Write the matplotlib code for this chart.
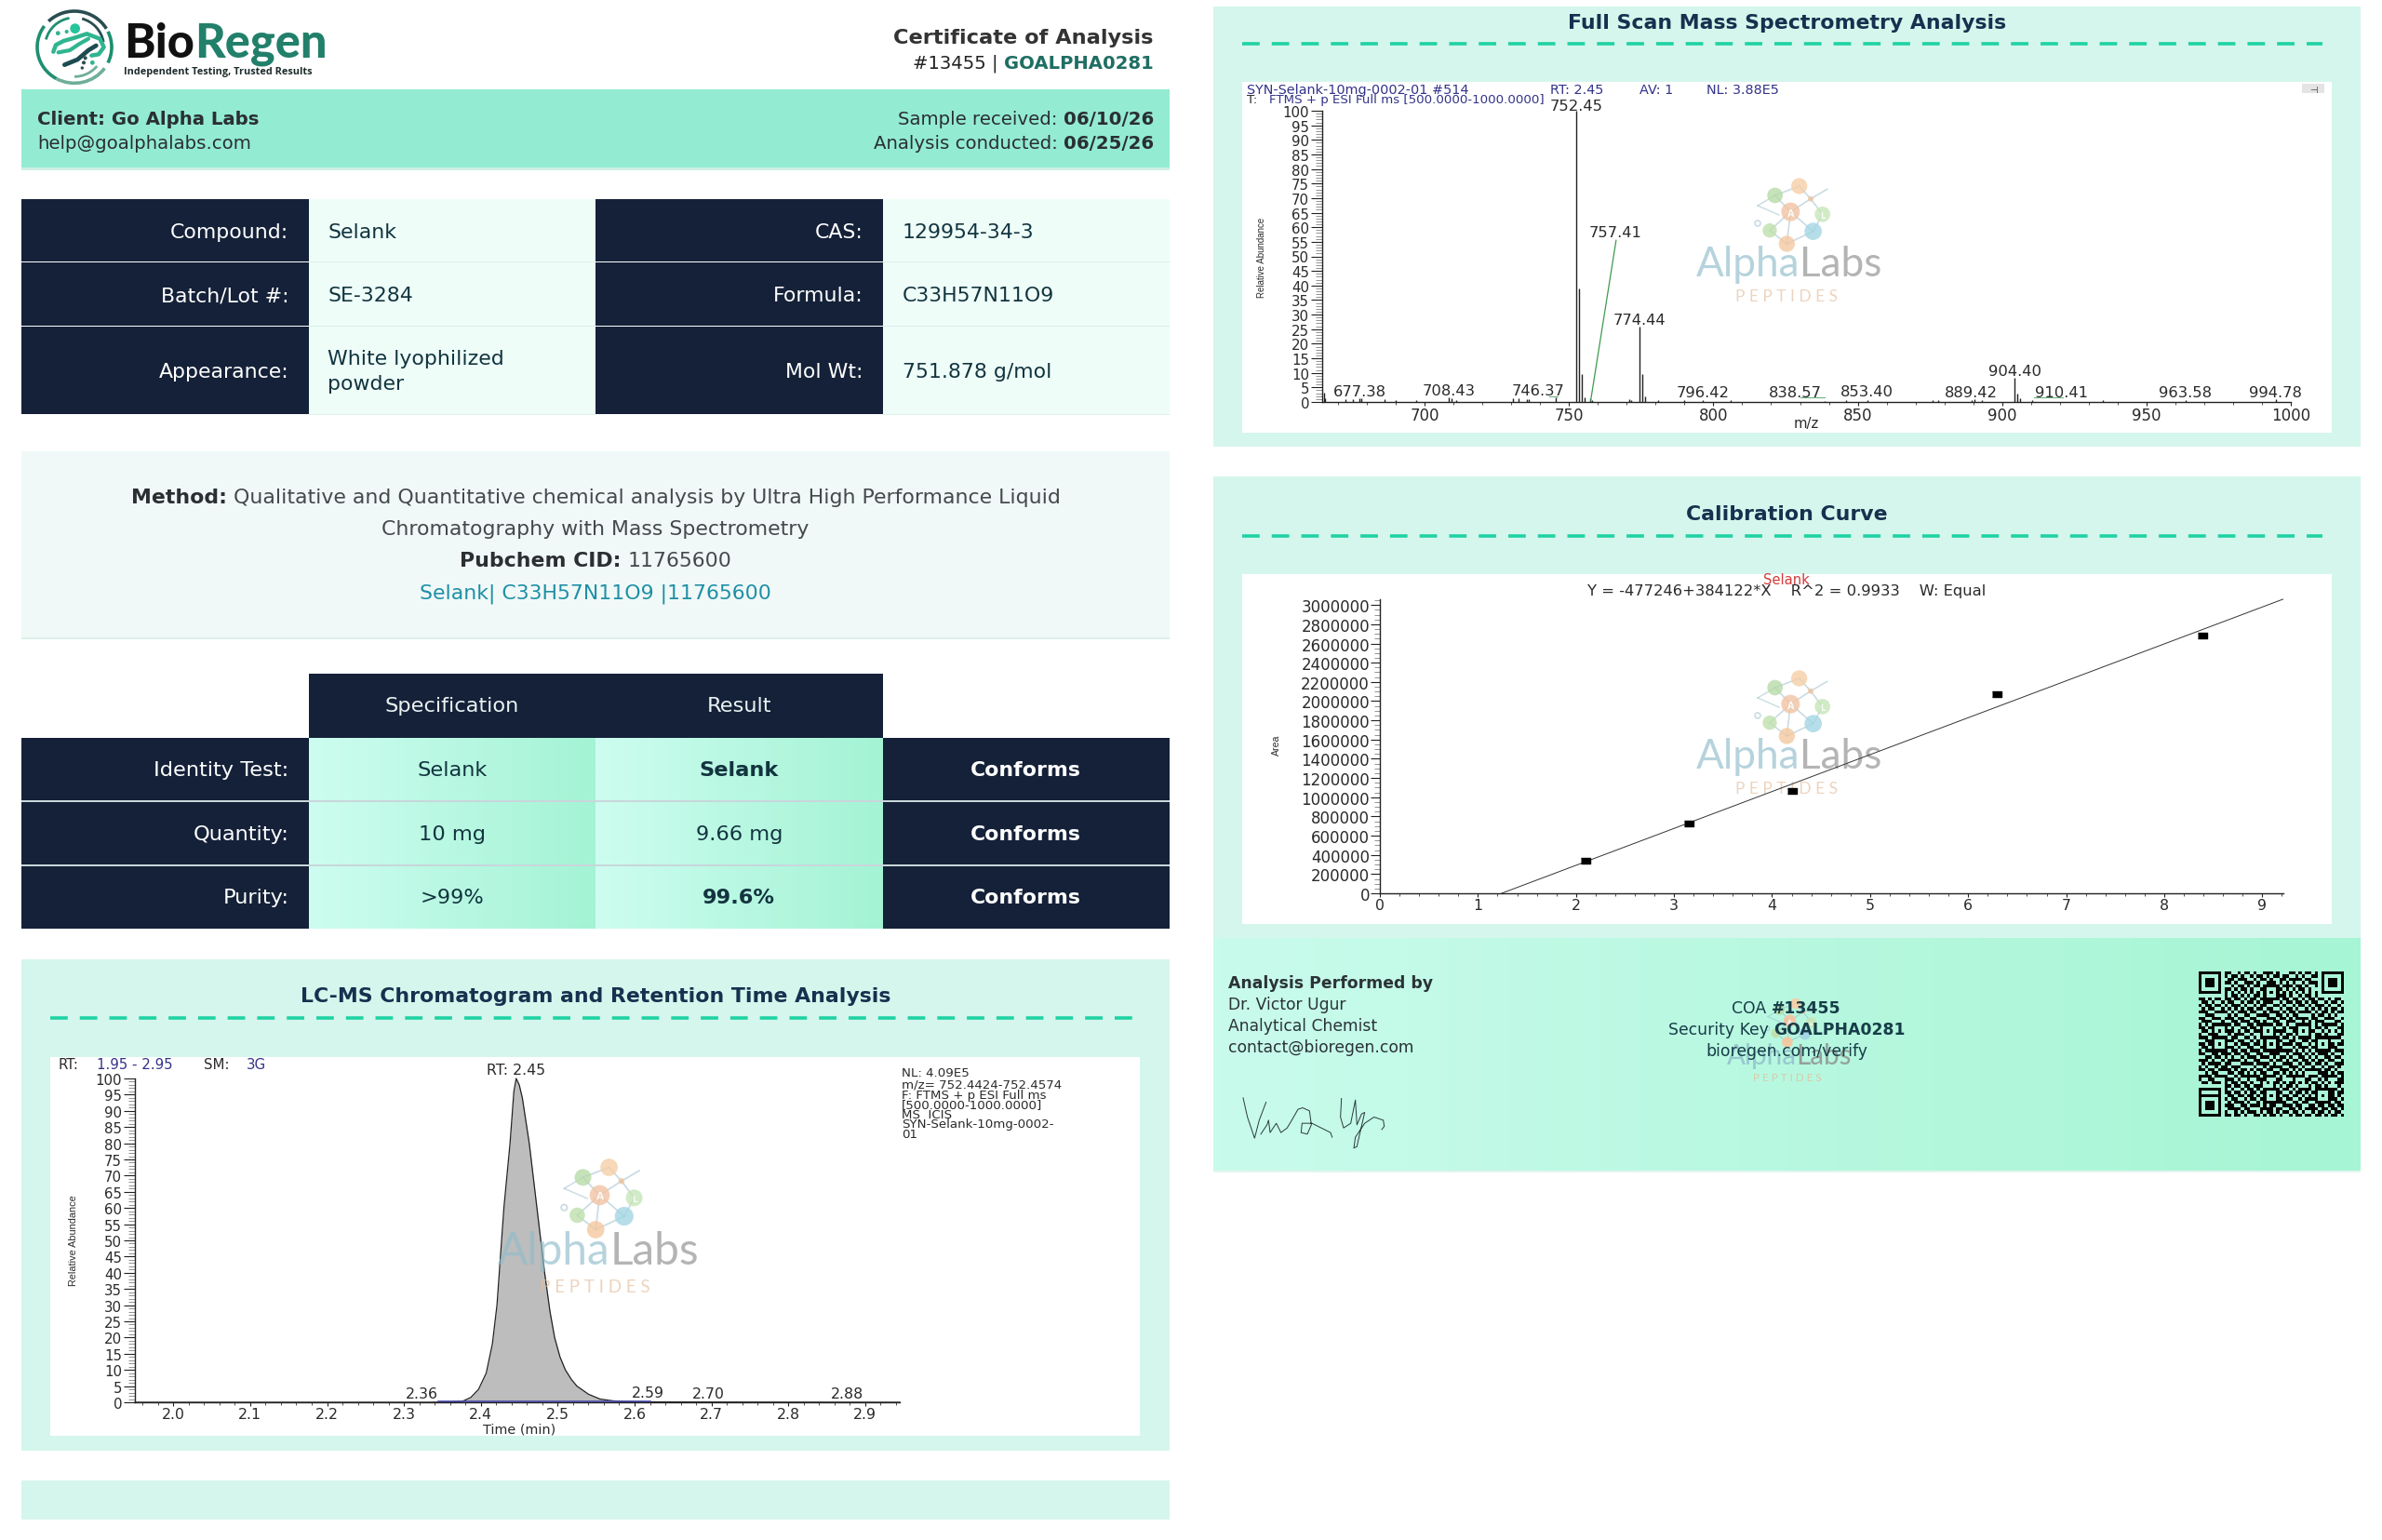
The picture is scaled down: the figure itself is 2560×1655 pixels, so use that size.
import numpy as np
import matplotlib
matplotlib.use("Agg")
import matplotlib.pyplot as plt
from matplotlib.colors import LinearSegmentedColormap, ListedColormap
from matplotlib.patches import Rectangle, Circle, Arc

W, H = 2560, 1656

# ---------- data ----------
info_left = [("Compound:", ["Selank"]), ("Batch/Lot #:", ["SE-3284"]), ("Appearance:", ["White lyophilized", "powder"])]
info_right = [("CAS:", "129954-34-3"), ("Formula:", "C33H57N11O9"), ("Mol Wt:", "751.878 g/mol")]
test_names = ["Identity Test:", "Quantity:", "Purity:"]
test_spec = ["Selank", "10 mg", ">99%"]
test_result = ["Selank", "9.66 mg", "99.6%"]
test_result_weight = ["bold", "normal", "bold"]
test_status = ["Conforms", "Conforms", "Conforms"]

lc_time = [1.95, 2.33, 2.36, 2.376, 2.387, 2.397, 2.407, 2.415, 2.421, 2.424, 2.430, 2.438, 2.443, 2.446, 2.450, 2.454,
           2.463, 2.473, 2.483, 2.490, 2.496, 2.503, 2.510, 2.518, 2.525, 2.540, 2.555, 2.570, 2.585, 2.62, 2.945]
lc_abund = [0, 0, 0.1, 0.3, 1.5, 4, 9, 18, 30, 40, 60, 80, 96, 100, 98, 94,
            80, 60, 40, 28, 20, 14, 10, 7, 5, 2.5, 1, 0.5, 0.2, 0.1, 0]
lc_labels = ["2.36", "2.59", "2.70", "2.88"]
lc_label_x = [2.323, 2.617, 2.696, 2.877]
lc_label_y = [0.6, 0.8, 0.6, 0.6]

ms_mz = [665.0, 665.6, 672.5, 675.0, 677.38, 678.0, 686.0, 690.0, 697.0, 708.43, 709.4, 711.0, 730.5, 732.5, 735.5, 736.2,
         745.5, 752.45, 753.45, 754.45, 755.4, 757.41, 758.0, 771.0, 771.5, 774.44, 775.45, 776.4, 781.0, 790.0, 796.42, 806.0,
         838.57, 846.0, 853.40, 876.0, 878.0, 889.42, 890.5, 893.0, 904.40, 905.4, 906.2, 910.41, 935.0, 963.58, 994.78]
ms_abund = [3.2, 1.2, 0.8, 0.8, 1.2, 1.2, 0.8, 0.6, 0.5, 1.5, 1.3, 0.5, 1.4, 1.4, 1.1, 0.9,
            1.5, 100, 39, 9.5, 1.5, 1.3, 0.5, 0.8, 0.6, 26, 9.5, 1.8, 0.5, 0.5, 0.5, 0.5,
            0.4, 0.6, 0.6, 0.7, 0.6, 0.6, 0.8, 0.5, 8.3, 3, 1.2, 0.6, 0.6, 0.5, 0.8]
ms_labels = ["752.45", "757.41", "774.44", "904.40", "677.38", "708.43", "746.37", "796.42", "838.57", "853.40", "889.42", "910.41", "963.58", "994.78"]
ms_label_x = [752.45, 766.0, 774.5, 904.4, 677.5, 708.4, 739.2, 796.4, 828.5, 853.2, 889.2, 920.5, 963.5, 994.8]
ms_label_y = [99.4, 56, 26, 8.4, 1.2, 1.6, 1.6, 1.0, 0.8, 1.2, 1.0, 0.8, 1.0, 1.0]
ms_guide_x = [757.5, 766.3]
ms_guide_y = [0.5, 55.5]

cal_x = [2.10, 3.15, 4.20, 6.29, 8.39]
cal_y = [335000, 725000, 1070000, 2075000, 2685000]
cal_line_x = [1.242, 9.21]
cal_line_y = [0, 3060000]

qr_rows = [
"111111101100101101001110100011010110101111111",
"100000101011010010110101101100101001101000001",
"101110100110111001011010011011110110001011101",
"101110101101001110100111010101001011101011101",
"101110100010110101101001101110110100101011101",
"100000101101011010010110010101011010001000001",
"111111101010101010101010101010101010101111111",
"000000001011010101101011011010010110100000000",
"110101101101101011010101101101101011011010110",
"011010010110010110101110010110110101100101101",
"101101101011101001011001101001011010111010010",
"010110010101010110110110010110100101010101101",
"111001111010111011001011101011011110101101011",
"001110000101001100111100110101100001011010100",
"110011101110110011000111011010111101100111001",
"011100010011011101101001100111001010111000110",
"101011111101100110111110110100111110101111101",
"110110001010011011010001001011100010110100011",
"011010101110101101110101111001101011001010101",
"100111000101110010010001010110100010110100011",
"111001111011001101011111101101011110011111110",
"001100010110110010100110010011001101100100001",
"110111101001011101101011101110110010111011011",
"011001011110100110010100110001011101001101100",
"101110100011011011101110011110101010110010111",
"110011011101101100110011100101110101011101001",
"001101101010010111011101011010011010100110110",
"111010010111101001100010110101101101011011001",
"010111101100011110111101001110010110110100111",
"101001011011100001001011110011101001001011010",
"110110111101011010110110011101010111110110100",
"001011000110110101011001101010101000011101011",
"111101111001011111101111010111111011101111101",
"100110001110100100111000110001000110010100011",
"011011101011011010010101101011010101101010111",
"000000001101101101110001010110100010110100010",
"111111101010010110101111101101011110011111101",
"100000101101101011010110010010110101100101011",
"101110100110110110101011101101101010111011010",
"101110101011001011011101010110010111001101101",
"101110100101110100100110111001101100110110110",
"100000101110011011101011001110110011011011011",
"111111100111101100011110110011010111101101101",
"000000001001010111010110101101101001011010110",
"000000001101101001101011010010110110110101101",
]
qr_align_rows = [6, 22, 38]

# ---------- canvas helpers ----------
fig = plt.figure(figsize=(W / 100, H / 100), dpi=100, facecolor="white")
plt.rcParams["font.family"] = ["DejaVu Sans"]
renderer = fig.canvas.get_renderer()

def px_axes(z):
    a = fig.add_axes([0, 0, 1, 1], zorder=z, facecolor="none")
    a.set_xlim(0, W)
    a.set_ylim(H, 0)
    a.set_autoscale_on(False)
    a.axis("off")
    return a

base = px_axes(0)
top = px_axes(5)

def rect(x0, y0, x1, y1, color, ax=base, z=1):
    ax.add_patch(Rectangle((x0, y0), x1 - x0, y1 - y0, facecolor=color, edgecolor="none", zorder=z))

def grad(x0, y0, x1, y1, c0, c1, ax=base, z=1):
    cm = LinearSegmentedColormap.from_list("g", [c0, c1])
    ax.imshow(np.linspace(0, 1, 256)[None, :], extent=(x0, x1, y1, y0), cmap=cm, aspect="auto", zorder=z, interpolation="bilinear")

def txt(x, y, s, size=15.8, color="#222", weight="normal", ha="left", ax=base, z=3, **kw):
    return ax.text(x, y, s, fontsize=size, color=color, fontweight=weight, ha=ha, va="center_baseline", zorder=z, **kw)

def runs(x, y, parts, size=14.2, ha="left", ax=base, z=3, **kw):
    """parts: (text, weight, color); a trailing space in text adds a gap."""
    items, total = [], 0
    space = 0.318 * size / 0.72
    for s, w, c in parts:
        t = txt(0, y, s.rstrip(), size=size, color=c, weight=w, ax=ax, z=z, **kw)
        wid = t.get_window_extent(renderer).width
        gap = space * (len(s) - len(s.rstrip()))
        items.append((t, total))
        total += wid + gap
    start = x - total if ha == "right" else x - total / 2 if ha == "center" else x
    for t, off in items:
        t.set_x(start + off)

# ---------- header ----------
NAVY = "#142138"
BAND = "#93ebd2"
PANEL = "#d5f6ec"
CELL = "#eefdf8"
TEAL = "#1f6e63"
L0, L1 = 23, 1257
C = [23, 331.5, 640, 948.5, 1257]

# logo ring and swirl
def zx(v): return v / 3 + 20
def zy(v): return v / 3
for th1, th2, col in [(35, 120, "#6fae98"), (120, 215, "#1f8f70"), (225, 330, "#2a4d50"), (335, 385, "#1c8f6f")]:
    base.add_patch(Arc((zx(180), zy(155)), 240 / 3, 232 / 3, theta1=th1, theta2=th2, color=col, lw=2.6, zorder=3))
for th1, th2, col in [(195, 260, "#1f8f70"), (40, 90, "#6fae98"), (285, 350, "#2a4d50")]:
    base.add_patch(Arc((zx(180), zy(155)), 190 / 3, 190 / 3, theta1=th1, theta2=th2, color=col, lw=2.0, zorder=3))
swirl_a = [(112, 170), (120, 148), (145, 135), (180, 125), (220, 112), (262, 128), (275, 155), (258, 178), (235, 182)]
swirl_b = [(128, 172), (165, 165), (195, 145), (225, 128)]
swirl_c = [(148, 212), (190, 195), (225, 165), (250, 150)]
for pts, col, lw in [(swirl_a, "#2fb58f", 3.2), (swirl_b, "#2fb58f", 3.0), (swirl_c, "#1e4b50", 3.4)]:
    base.plot([zx(p[0]) for p in pts], [zy(p[1]) for p in pts], color=col, lw=lw, solid_capstyle="round", zorder=3)
for dx, dy, r, col in [(182, 95, 14, "#26c49a"), (127, 110, 5, "#2fb58f"), (155, 105, 4, "#2fb58f"), (215, 190, 4, "#2a4d50"), (238, 205, 5, "#2fb58f"), (210, 205, 4, "#2a4d50"), (205, 222, 3, "#2a4d50")]:
    base.add_patch(Circle((zx(dx), zy(dy)), r / 3, color=col, zorder=3))
runs(133, 43, [("Bio", 900, "#111111"), ("Regen", 900, "#22806a")], size=36.4, ha="left", family="Lato")
txt(133, 76, "Independent Testing, Trusted Results", size=7.8, color="#1d2a2a", weight="bold", family="Open Sans")

txt(1240, 39, "Certificate of Analysis", size=16.2, color="#333333", weight="bold", ha="right")
runs(1240, 66, [("#13455 | ", "normal", "#222222"), ("GOALPHA0281", "bold", TEAL)], size=14.1, ha="right")

rect(L0, 97, L1, 182, BAND)
rect(L0, 181, L1, 183.5, "#cfeee4")
runs(40, 126, [("Client: Go Alpha Labs", "bold", "#2a2f33")], size=14.2)
txt(40, 153, "help@goalphalabs.com", size=14.2, color="#2a2f33")
runs(1240, 126, [("Sample received: ", "normal", "#2a2f33"), ("06/10/26", "bold", "#2a2f33")], size=14.2, ha="right")
runs(1240, 153, [("Analysis conducted: ", "normal", "#2a2f33"), ("06/25/26", "bold", "#2a2f33")], size=14.2, ha="right")

# ---------- info table ----------
row_y = [215, 283, 352, 447]
for i in range(3):
    y0, y1 = row_y[i], row_y[i + 1]
    mid = (y0 + y1) / 2
    rect(C[0], y0, C[1], y1 - 1.5, NAVY)
    rect(C[2], y0, C[3], y1 - 1.5, NAVY)
    rect(C[1], y0, C[2], y1 - 1.5, CELL)
    rect(C[3], y0, C[4], y1 - 1.5, CELL)
    rect(C[1], y1 - 1.5, C[2], y1, "#dcefe9")
    rect(C[3], y1 - 1.5, C[4], y1, "#dcefe9")
    lab, vals = info_left[i]
    txt(C[1] - 21, mid - 1.5, lab, color="white", ha="right")
    for k, v in enumerate(vals):
        txt(C[1] + 21, mid - 1.5 + (k - (len(vals) - 1) / 2) * 27, v, color="#12343f")
    lab, val = info_right[i]
    txt(C[3] - 21, mid - 1.5, lab, color="white", ha="right")
    txt(C[3] + 21, mid - 1.5, val, color="#12343f")

# ---------- method ----------
rect(L0, 486, L1, 687, "#f0f9f7")
rect(L0, 686, L1, 687.5, "#dcefe9")
MX = (L0 + L1) / 2
runs(MX, 533, [("Method: ", "bold", "#2b2f33"), ("Qualitative and Quantitative chemical analysis by Ultra High Performance Liquid", "normal", "#44494d")], size=15.8, ha="center")
txt(MX, 567, "Chromatography with Mass Spectrometry", size=15.8, color="#44494d", ha="center")
runs(MX, 601, [("Pubchem CID: ", "bold", "#2b2f33"), ("11765600", "normal", "#44494d")], size=15.8, ha="center")
txt(MX, 636, "Selank| C33H57N11O9 |11765600", size=15.8, color="#1f8fa6", ha="center")

# ---------- results ----------
res_y = [725, 794, 862, 931, 999]
RS = 16.2
rect(C[1], res_y[0], C[3], res_y[1], NAVY)
txt((C[1] + C[2]) / 2, (res_y[0] + res_y[1]) / 2 - 2.5, "Specification", size=RS, color="#eaf2f2", ha="center")
txt((C[2] + C[3]) / 2, (res_y[0] + res_y[1]) / 2 - 2.5, "Result", size=RS, color="#eaf2f2", ha="center")
for i in range(3):
    y0, y1 = res_y[i + 1], res_y[i + 2]
    mid = (y0 + y1) / 2 - 1.5
    rect(C[0], y0, C[1], y1, NAVY)
    rect(C[3], y0, C[4], y1, NAVY)
    grad(C[1], y0, C[2], y1, "#cdfdf0", "#a4f3d5")
    grad(C[2], y0, C[3], y1, "#cdfdf0", "#a4f3d5")
    if i:
        rect(C[0], y0 - 1, C[4], y0 + 1, "#c8d6da", z=2)
    txt(C[1] - 21, mid, test_names[i], size=RS, color="white", ha="right")
    txt((C[1] + C[2]) / 2, mid, test_spec[i], size=RS, color="#12343f", ha="center")
    txt((C[2] + C[3]) / 2, mid, test_result[i], size=RS, color="#12343f", weight=test_result_weight[i], ha="center")
    txt((C[3] + C[4]) / 2, mid, test_status[i], color="white", weight="bold", ha="center")

# ---------- panels ----------
def panel(x0, y0, x1, y1, title, ty, dy, dx0, dx1, box):
    rect(x0, y0, x1, y1, PANEL)
    txt((x0 + x1) / 2, ty, title, size=15.8, color="#17304f", weight="bold", ha="center")
    base.plot([dx0, dx1], [dy, dy], color="#1fd2a3", lw=2.6, dashes=(5.2, 3.6), zorder=3)
    rect(*box, "white", z=2)

panel(L0, 1032, L1, 1560, "LC-MS Chromatogram and Retention Time Analysis", 1069, 1095, 54, 1222, (54, 1137, 1225, 1544))
rect(L0, 1592, L1, 1634, PANEL)
R0, R1 = 1304, 2537
panel(R0, 8, R1, 481, "Full Scan Mass Spectrometry Analysis", 23, 48, 1335, 2496, (1335, 89, 2506, 466))
panel(R0, 513, R1, 1009, "Calibration Curve", 551, 577, 1335, 2496, (1335, 618, 2506, 994))

# ---------- chart axes ----------
def chart(x0, x1, ytop, ybot, xlim, ylim, z=2):
    a = fig.add_axes([x0 / W, 1 - ybot / H, (x1 - x0) / W, (ybot - ytop) / H], zorder=z, facecolor="none")
    a.set_xlim(*xlim)
    a.set_ylim(*ylim)
    for s in ("top", "right"):
        a.spines[s].set_visible(False)
    for s in ("left", "bottom"):
        a.spines[s].set_linewidth(1.0)
        a.spines[s].set_color("#222222")
    return a

CF = dict(fontsize=11.3, color="#2a2a2a")
YF = dict(fontsize=10.8, color="#2a2a2a")

def style_ticks(a, ymaj=9, ymin=5):
    a.tick_params(axis="y", which="major", length=ymaj, width=0.8, pad=1, color="#222222")
    a.tick_params(axis="y", which="minor", length=ymin, width=0.5, color="#666666")
    a.tick_params(axis="x", which="major", length=3.2, width=0.8, pad=0.5, color="#222222")
    a.tick_params(axis="x", which="minor", length=1.8, width=0.6, color="#333333")

# LC chromatogram
lc = chart(145, 967, 1160, 1508, (1.95, 2.945), (0, 100))
lc.fill_between(lc_time, lc_abund, color="#bdbdbd", lw=0)
lc.plot(lc_time, lc_abund, color="#222222", lw=0.9, clip_on=False)
lc.plot([2.345, 2.62], [0.15, 0.15], color="#4a4ab0", lw=1.2)
lc.set_xticks(np.arange(2.0, 2.95, 0.1))
lc.set_xticklabels(["%.1f" % v for v in np.arange(2.0, 2.95, 0.1)], **CF)
lc.set_xticks(np.arange(1.96, 2.945, 0.02), minor=True)
lc.set_yticks(np.arange(0, 101, 5))
lc.set_yticklabels([str(v) for v in range(0, 101, 5)], **YF)
lc.set_yticks(np.arange(0, 101, 1), minor=True)
style_ticks(lc)
txt(558, 1535, "Time (min)", size=10.4, color="#2a2a2a", ha="center", ax=top)
txt(78, 1333, "Relative Abundance", size=7.8, color="#2a2a2a", ha="center", ax=top, rotation=90, rotation_mode="anchor", family="Liberation Sans")
for s, x, y in zip(lc_labels, lc_label_x, lc_label_y):
    lc.text(x, y, s, ha="center", va="bottom", **CF)
lc.text(2.446, 100.5, "RT: 2.45", ha="center", va="bottom", **CF)
for x, s, col in [(63, "RT:", "#2a2a2a"), (104, "1.95 - 2.95", "#33338a"), (219, "SM:", "#2a2a2a"), (265, "3G", "#33338a")]:
    txt(x, 1143, s, size=10.8, color=col, ax=top)
lc_info = ["NL: 4.09E5", "m/z= 752.4424-752.4574", "F: FTMS + p ESI Full ms", "[500.0000-1000.0000]", "MS  ICIS", "SYN-Selank-10mg-0002-", "01"]
for k, s in enumerate(lc_info):
    yy = 1152 if k == 0 else 1165 + (k - 1) * 10.6
    txt(969, yy, s, size=9.6, color="#2a2a2a", ax=top)

# Mass spectrum
ms = chart(1421, 2462, 120, 433, (664.5, 1000), (0, 100))
ms.vlines(ms_mz, 0, ms_abund, color="#222222", lw=1.0)
ms.plot(ms_guide_x, ms_guide_y, color="#3d9a4e", lw=0.9)
for gx, gy in [([743, 746], [1.9, 1.9]), ([830, 838.5], [1.5, 1.5]), ([911, 921], [1.6, 1.6])]:
    ms.plot(gx, gy, color="#6fb27d", lw=0.8)
ms.set_xticks(np.arange(700, 1001, 50))
ms.set_xticklabels([str(v) for v in range(700, 1001, 50)], fontsize=12.0, color="#2a2a2a")
ms.set_xticks(np.arange(670, 1001, 10), minor=True)
ms.set_yticks(np.arange(0, 101, 5))
ms.set_yticklabels([str(v) for v in range(0, 101, 5)], **YF)
ms.set_yticks(np.arange(0, 101, 1), minor=True)
style_ticks(ms)
txt(1941, 454, "m/z", size=10.6, color="#2a2a2a", ha="center", ax=top)
txt(1355, 277, "Relative Abundance", size=7.0, color="#2a2a2a", ha="center", ax=top, rotation=90, rotation_mode="anchor", family="Liberation Sans")
for s, x, y in zip(ms_labels, ms_label_x, ms_label_y):
    ms.text(x, y, s, ha="center", va="bottom", clip_on=False, fontsize=11.8, color="#2a2a2a")
HB = "#33338a"
for x, s in [(1340, "SYN-Selank-10mg-0002-01 #514"), (1666, "RT: 2.45"), (1762, "AV: 1"), (1834, "NL: 3.88E5")]:
    txt(x, 95.5, s, size=10.4, color=HB, ax=top)
txt(1340, 106, "T:", size=9.6, color="#2a2a2a", ax=top)
txt(1364, 106, "FTMS + p ESI Full ms [500.0000-1000.0000]", size=9.6, color=HB, ax=top)
rect(2474, 91, 2498, 101, "#e4e4e4", ax=top)
txt(2486, 96, "⊣", size=7, ha="center", color="#333333", ax=top)

# Calibration
cal = chart(1483, 2453.5, 645, 961, (0, 9.21), (0, 3060000), z=7)
cal.plot(cal_line_x, cal_line_y, color="#333333", lw=0.7, clip_on=False)
cal.plot(cal_x, cal_y, ls="none", color="black", marker=[(-1.6, -1), (1.6, -1), (1.6, 1), (-1.6, 1)], ms=7.5)
cal.set_xticks(np.arange(0, 10))
cal.set_xticklabels([str(v) for v in range(10)], **CF)
cal.set_xticks(np.arange(0, 9.21, 0.2), minor=True)
cal.set_yticks(np.arange(0, 3000001, 200000))
cal.set_yticklabels([str(v) for v in range(0, 3000001, 200000)], fontsize=12.0, color="#2a2a2a")
cal.set_yticks(np.arange(0, 3060000, 50000), minor=True)
style_ticks(cal, ymaj=7, ymin=4)
txt(1371, 801, "Area", size=7.6, color="#2a2a2a", ha="center", ax=top, rotation=90, rotation_mode="anchor", family="Liberation Sans")
txt(1920, 622, "Selank", size=10.6, color="#d23a3a", ha="center", ax=top)
txt(1920, 634.5, "Y = -477246+384122*X    R^2 = 0.9933    W: Equal", size=11.8, color="#2a2a2a", ha="center", ax=top)

# ---------- footer ----------
grad(R0, 1009, R1, 1259, "#c9fbec", "#a6f5d4")
rect(R0, 1259, R1, 1261, "#e3f5ef")
txt(1320, 1055, "Analysis Performed by", size=12.4, weight="bold", color="#2b3336", ax=top, z=8)
for k, s in enumerate(["Dr. Victor Ugur", "Analytical Chemist", "contact@bioregen.com"]):
    txt(1320, 1078 + k * 22.8, s, size=12.3, color="#2b3336", ax=top, z=8)
FX = 1920
runs(FX, 1082, [("COA ", "normal", "#173d48"), ("#13455", "bold", "#173d48")], size=12.4, ha="center", ax=top, z=8)
runs(FX, 1105, [("Security Key ", "normal", "#173d48"), ("GOALPHA0281", "bold", "#173d48")], size=12.4, ha="center", ax=top, z=8)
txt(FX, 1128, "bioregen.com/verify", size=12.4, color="#173d48", ha="center", ax=top, z=8)

sig_a = [(48, 418), (62, 480), (85, 548), (100, 490), (122, 432)]
sig_b = [(105, 535), (125, 505), (130, 490), (135, 530), (155, 500), (170, 530), (190, 515), (205, 490), (225, 455), (240, 450), (262, 460),
         (268, 505), (255, 535), (235, 530), (238, 500), (270, 500), (300, 515), (330, 530), (335, 545)]
sig_c = [(365, 420), (362, 480), (372, 515), (395, 500), (410, 425), (415, 505), (430, 470), (440, 465), (425, 530), (415, 575), (405, 580),
         (410, 545), (440, 500), (470, 480), (500, 490), (503, 510), (495, 520)]
for pts in (sig_a, sig_b, sig_c):
    top.plot([p[0] / 3 + 1320 for p in pts], [p[1] / 3 + 1041.5 for p in pts], color="#2a3a3a", lw=0.7, zorder=8)

# QR
qr = np.array([[int(c) for c in r.ljust(45, "0")[:45]] for r in qr_rows])
def stamp(m, r, c, pat):
    m[r:r + pat.shape[0], c:c + pat.shape[1]] = pat
finder = np.ones((7, 7), int); finder[1:6, 1:6] = 0; finder[2:5, 2:5] = 1
align = np.ones((5, 5), int); align[1:4, 1:4] = 0; align[2, 2] = 1
for r, c in [(0, 0), (0, 38), (38, 0)]:
    stamp(qr, r, c, finder)
for r in qr_align_rows:
    for c in qr_align_rows:
        if (r, c) not in [(6, 6), (6, 38), (38, 6)]:
            stamp(qr, r - 2, c - 2, align)
base.imshow(qr, extent=(2363, 2519, 1201, 1045), cmap=ListedColormap(["#abf6d8", "#050505"]), aspect="auto", interpolation="nearest", zorder=3)

# ---------- watermark ----------
def watermark(cx, cy, sc, a=0.55, z=6):
    X = lambda v: cx + (v - 365) / 3 * sc
    Y = lambda v: cy + (v - 230) / 3 * sc
    nodes = {"g1": (322, 92, 25, "#b7dba8"), "o1": (400, 62, 26, "#f6cfa8"), "s": (437, 103, 9, "#efc6a0"), "A": (372, 145, 30, "#f2c4a4"),
             "L": (475, 153, 25, "#c6e6b8"), "b": (445, 208, 28, "#a4d6e4"), "g2": (305, 205, 23, "#bfe0ac"), "o2": (360, 248, 26, "#f4c8a0")}
    edges = [("g1", "o1"), ("o1", "s"), ("s", "A"), ("s", "L"), ("g1", "A"), ("A", "b"), ("A", "g2"), ("g2", "o2"), ("A", "o2"), ("o2", "b"), ("L", "b")]
    for p, q in edges:
        top.plot([X(nodes[p][0]), X(nodes[q][0])], [Y(nodes[p][1]), Y(nodes[q][1])], color="#9fc0cc", lw=1.2 * sc, alpha=a, zorder=z)
    top.plot([X(266), X(322)], [Y(125), Y(92)], color="#9fc0cc", lw=1.0 * sc, alpha=a, zorder=z)
    top.plot([X(437), X(490)], [Y(103), Y(72)], color="#9fc0cc", lw=1.2 * sc, alpha=a, zorder=z)
    top.plot([X(266), X(335)], [Y(125), Y(155)], color="#9fc0cc", lw=1.0 * sc, alpha=a, zorder=z)
    top.add_patch(Circle((X(266), Y(182)), 9 / 3 * sc, fill=False, ec="#9fc0cc", lw=1.2 * sc, alpha=a, zorder=z))
    for n, (x, y, r, col) in nodes.items():
        top.add_patch(Circle((X(x), Y(y)), r / 3 * sc, color=col, alpha=min(1, a + 0.25), lw=0, zorder=z))
    txt(X(372), Y(145), "A", size=7 * sc, color="white", ha="center", weight="bold", ax=top, z=z, alpha=0.9)
    txt(X(475), Y(153), "L", size=6 * sc, color="white", ha="center", weight="bold", ax=top, z=z, alpha=0.9)
    t1 = top.text(X(68), Y(350), "Alpha", fontsize=31.8 * sc, color="#8fbccb", alpha=a + 0.1, family="Lato", va="baseline", zorder=z)
    w = t1.get_window_extent(renderer).width
    top.text(X(68) + w, Y(350), "Labs", fontsize=31.8 * sc, color="#8c8c8c", alpha=a + 0.1, family="Lato", va="baseline", zorder=z)
    top.text(X(358), Y(432), "P E P T I D E S", fontsize=12.5 * sc, color="#e3bd9c", alpha=a + 0.1, family="Lato", ha="center", va="baseline", zorder=z)

watermark(1922, 257, 1.0)
watermark(1922, 786, 1.0)
watermark(642, 1316, 1.08)
watermark(1922, 1117, 0.67, a=0.7)

fig.savefig("out.png", dpi=100, facecolor="white")
